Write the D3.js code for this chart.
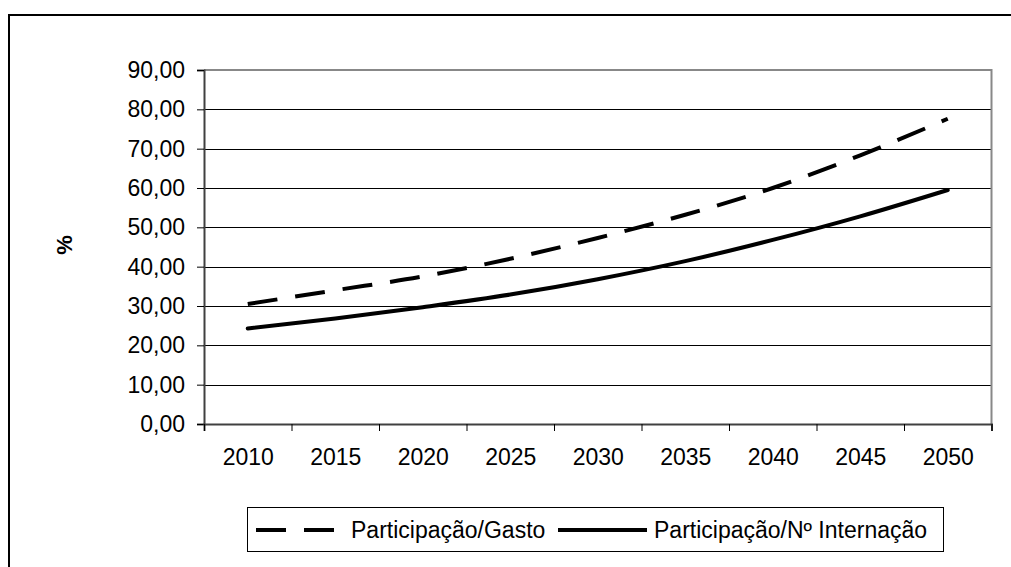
<!DOCTYPE html>
<html>
<head>
<meta charset="utf-8">
<script src="https://cdn.jsdelivr.net/npm/d3@7"></script>
<style>
  html, body { margin: 0; padding: 0; background: #fff; }
  svg { display: block; font-family: "Liberation Sans", Arial, sans-serif; }
</style>
</head>
<body>
<svg id="chart" width="1011" height="567"></svg>
<script>
// Projected participation (%) by year
const years = ["2010", "2015", "2020", "2025", "2030", "2035", "2040", "2045", "2050"];
const gasto = [30.5, 34.0, 37.5, 42.0, 47.3, 53.2, 60.0, 68.3, 77.6];
const internacao = [24.3, 26.8, 29.7, 32.9, 36.8, 41.4, 46.8, 52.8, 59.5];
const yTicks = [0, 10, 20, 30, 40, 50, 60, 70, 80, 90];
const seriesNames = ["Participação/Gasto", "Participação/Nº Internação"];

const svg = d3.select("#chart");
const W = 1011, H = 567;
const plot = { left: 204, right: 991.5, top: 70, bottom: 424 };

svg.append("rect").attr("width", W).attr("height", H).attr("fill", "#fff");

// outer frame
svg.append("rect")
  .attr("x", 9).attr("y", 15).attr("width", 1100).attr("height", 700)
  .attr("fill", "none").attr("stroke", "#000").attr("stroke-width", 2);

const locale = d3.formatLocale({ decimal: ",", thousands: ".", grouping: [3], currency: ["R$", ""] });
const fmt = locale.format(".2f");

const y = d3.scaleLinear().domain([0, 90]).range([plot.bottom, plot.top]);
const x = d3.scalePoint().domain(years).range([plot.left, plot.right]).padding(0.5);
const xEdges = d3.scaleLinear().domain([0, years.length]).range([plot.left, plot.right]);

// horizontal gridlines
svg.append("g")
  .selectAll("line")
  .data(yTicks.filter(t => t > 0 && t < 90))
  .join("line")
  .attr("x1", plot.left).attr("x2", plot.right)
  .attr("y1", d => Math.round(y(d)) + 0.5).attr("y2", d => Math.round(y(d)) + 0.5)
  .attr("stroke", "#000").attr("stroke-width", 1);

// plot border (top / right)
svg.append("path")
  .attr("d", `M${plot.left},${plot.top}H${plot.right}V${plot.bottom}`)
  .attr("fill", "none").attr("stroke", "#888").attr("stroke-width", 2);

// y axis
const yAxis = svg.append("g")
  .attr("transform", `translate(${plot.left},0)`)
  .call(d3.axisLeft(y).tickValues(yTicks).tickFormat(fmt).tickSize(7).tickPadding(12));
yAxis.select(".domain").attr("stroke", "#404040").attr("stroke-width", 2);
yAxis.selectAll(".tick line").attr("stroke", "#000").attr("stroke-width", 1);
yAxis.selectAll("text").attr("font-size", 23).attr("fill", "#000")
  .attr("font-family", "'Liberation Sans', Arial, sans-serif");

// x axis: ticks on category boundaries, labels centred in each category
const xAxis = svg.append("g")
  .attr("transform", `translate(0,${plot.bottom})`)
  .call(d3.axisBottom(xEdges).tickValues(d3.range(years.length + 1)).tickFormat("").tickSize(7));
xAxis.select(".domain").attr("stroke", "#404040").attr("stroke-width", 2);
xAxis.selectAll(".tick line").attr("stroke", "#000").attr("stroke-width", 1);

const xLabels = svg.append("g")
  .attr("transform", `translate(0,${plot.bottom})`)
  .call(d3.axisBottom(x).tickSize(0).tickPadding(25));
xLabels.select(".domain").remove();
xLabels.selectAll("text").attr("font-size", 23).attr("fill", "#000")
  .attr("font-family", "'Liberation Sans', Arial, sans-serif");

// y axis title
svg.append("text")
  .attr("transform", `translate(72,245) rotate(-90)`)
  .attr("text-anchor", "middle")
  .attr("font-size", 22).attr("font-weight", "bold")
  .text("%");

// series lines
const line = d3.line()
  .x((d, i) => x(years[i]))
  .y(d => y(d))
  .curve(d3.curveMonotoneX);

svg.append("path")
  .datum(gasto)
  .attr("d", line)
  .attr("fill", "none").attr("stroke", "#000").attr("stroke-width", 4)
  .attr("stroke-dasharray", "30,18");

svg.append("path")
  .datum(internacao)
  .attr("d", line)
  .attr("fill", "none").attr("stroke", "#000").attr("stroke-width", 4)
  .attr("stroke-linecap", "round");

// legend
const lg = svg.append("g");
lg.append("rect")
  .attr("x", 247.5).attr("y", 507.5).attr("width", 696).attr("height", 44)
  .attr("fill", "#fff").attr("stroke", "#000").attr("stroke-width", 1);

lg.append("line")
  .attr("x1", 256).attr("x2", 336).attr("y1", 530).attr("y2", 530)
  .attr("stroke", "#000").attr("stroke-width", 4).attr("stroke-dasharray", "30,18");
lg.append("text")
  .attr("x", 351).attr("y", 538).attr("font-size", 23)
  .text(seriesNames[0]);

lg.append("line")
  .attr("x1", 558).attr("x2", 647).attr("y1", 530).attr("y2", 530)
  .attr("stroke", "#000").attr("stroke-width", 4);
lg.append("text")
  .attr("x", 654).attr("y", 538).attr("font-size", 23)
  .text(seriesNames[1]);
</script>
</body>
</html>
